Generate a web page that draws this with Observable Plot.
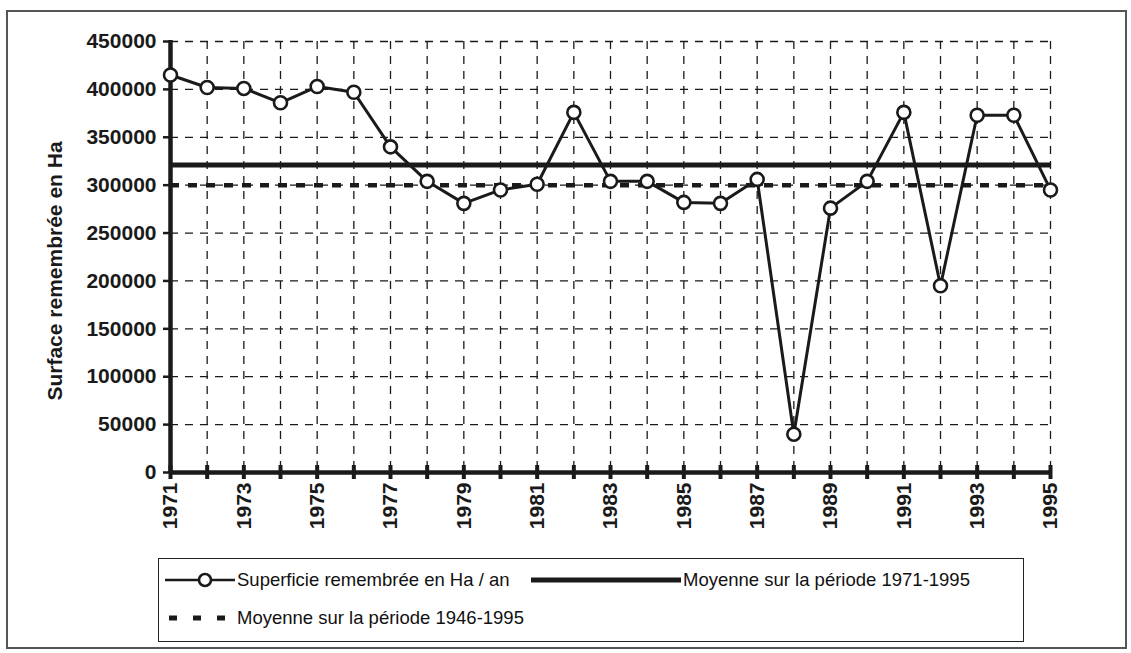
<!DOCTYPE html>
<html><head><meta charset="utf-8">
<script src="https://cdn.jsdelivr.net/npm/d3@7"></script>
<script src="https://cdn.jsdelivr.net/npm/@observablehq/plot@0.6"></script>
<style>
html,body{margin:0;padding:0;background:#fff;}
#wrap{position:relative;width:1131px;height:653px;overflow:hidden;font-family:"Liberation Sans",Arial,sans-serif;}
#frame{position:absolute;left:6px;top:10px;width:1121px;height:639px;border:2px solid #555;box-sizing:border-box;}
#chart{position:absolute;left:0;top:0;}
#legend{position:absolute;left:158px;top:558px;width:866px;height:84px;border:1.5px solid #222;box-sizing:border-box;color:#111;font-size:18.5px;}
.li{position:absolute;display:flex;align-items:center;white-space:nowrap;}
.li svg{display:block;}
</style></head>
<body><div id="wrap"><div id="frame"></div><div id="chart"></div><div id="legend"></div></div>
<script>
const years = [1971,1972,1973,1974,1975,1976,1977,1978,1979,1980,1981,1982,1983,1984,1985,1986,1987,1988,1989,1990,1991,1992,1993,1994,1995];
const surface = [415000,402000,401000,386000,403000,397000,340000,304000,281000,295000,301000,376000,304000,304000,282000,281000,306000,40000,276000,304000,376000,195000,373000,373000,295000];
const mean7195 = 321000;
const mean4695 = 300000;
const yTicks = [0,50000,100000,150000,200000,250000,300000,350000,400000,450000];
const xLabels = [1971,1973,1975,1977,1979,1981,1983,1985,1987,1989,1991,1993,1995];
const yTitle = "Surface remembrée en Ha";
const legendLabels = ["Superficie remembrée en Ha / an","Moyenne sur la période 1971-1995","Moyenne sur la période 1946-1995"];

const data = years.map((y,i)=>({year:y, value:surface[i]}));
const ink = "#1a1a1a";

const chart = Plot.plot({
  width: 1131, height: 560,
  marginLeft: 170, marginRight: 81, marginTop: 41, marginBottom: 88,
  style: {fontFamily: '"Liberation Sans", Arial, sans-serif', fontSize: "21px", fontWeight: "bold", color: ink, background: "transparent"},
  x: {domain: [1971, 1995], type: "linear"},
  y: {domain: [0, 450000]},
  marks: [
    Plot.gridX(years.slice(1), {stroke: ink, strokeOpacity: 1, strokeWidth: 1.3, strokeDasharray: "8,7"}),
    Plot.gridY(yTicks.slice(1), {stroke: ink, strokeOpacity: 1, strokeWidth: 1.3, strokeDasharray: "8,7"}),
    Plot.ruleY([mean7195], {stroke: ink, strokeWidth: 5}),
    Plot.ruleY([mean4695], {stroke: ink, strokeWidth: 4.5, strokeDasharray: "9,9"}),
    Plot.ruleX(years, {y1: 0, y2: 0, insetTop: -7, insetBottom: -7, stroke: ink, strokeWidth: 4}),
    Plot.ruleX([1971], {stroke: ink, strokeWidth: 4.5, insetTop: -1}),
    Plot.ruleY([0], {stroke: ink, strokeWidth: 4.5}),
    Plot.axisY({ticks: yTicks, tickSize: 7, tickPadding: 7, tickFormat: d => String(d), label: null, stroke: ink, strokeWidth: 2.5, fill: ink, fontSize: 21, fontWeight: "bold"}),
    Plot.axisX({ticks: xLabels, tickSize: 0, tickPadding: 10, tickRotate: -90, tickFormat: d => String(d), label: null, fill: ink, fontSize: 21, fontWeight: "bold"}),
    Plot.text([yTitle], {frameAnchor: "left", textAnchor: "middle", dx: -115, dy: 14, rotate: -90, fill: ink, fontSize: 21, fontWeight: "bold", letterSpacing: "1px"}),
    Plot.line(data, {x: "year", y: "value", stroke: ink, strokeWidth: 3}),
    Plot.dot(data, {x: "year", y: "value", r: 6.5, fill: "#fff", stroke: ink, strokeWidth: 2.6})
  ]
});
document.getElementById("chart").append(chart);

const lg = document.getElementById("legend");
function item(left, top, svg, text){
  const d = document.createElement("div");
  d.className = "li";
  d.style.left = left + "px"; d.style.top = top + "px";
  d.innerHTML = svg + `<span style="margin-left:2px">${text}</span>`;
  lg.append(d);
}
item(6, 10, `<svg width="70" height="22"><line x1="0" y1="11" x2="70" y2="11" stroke="${ink}" stroke-width="2.5"/><circle cx="40" cy="11" r="6" fill="#fff" stroke="${ink}" stroke-width="2.6"/></svg>`, legendLabels[0]);
item(372, 10, `<svg width="150" height="22"><line x1="0" y1="11" x2="150" y2="11" stroke="${ink}" stroke-width="5"/></svg>`, legendLabels[1]);
item(6, 48, `<svg width="70" height="22"><line x1="4" y1="11" x2="80" y2="11" stroke="${ink}" stroke-width="5" stroke-dasharray="8,16"/></svg>`, legendLabels[2]);
</script></body></html>
